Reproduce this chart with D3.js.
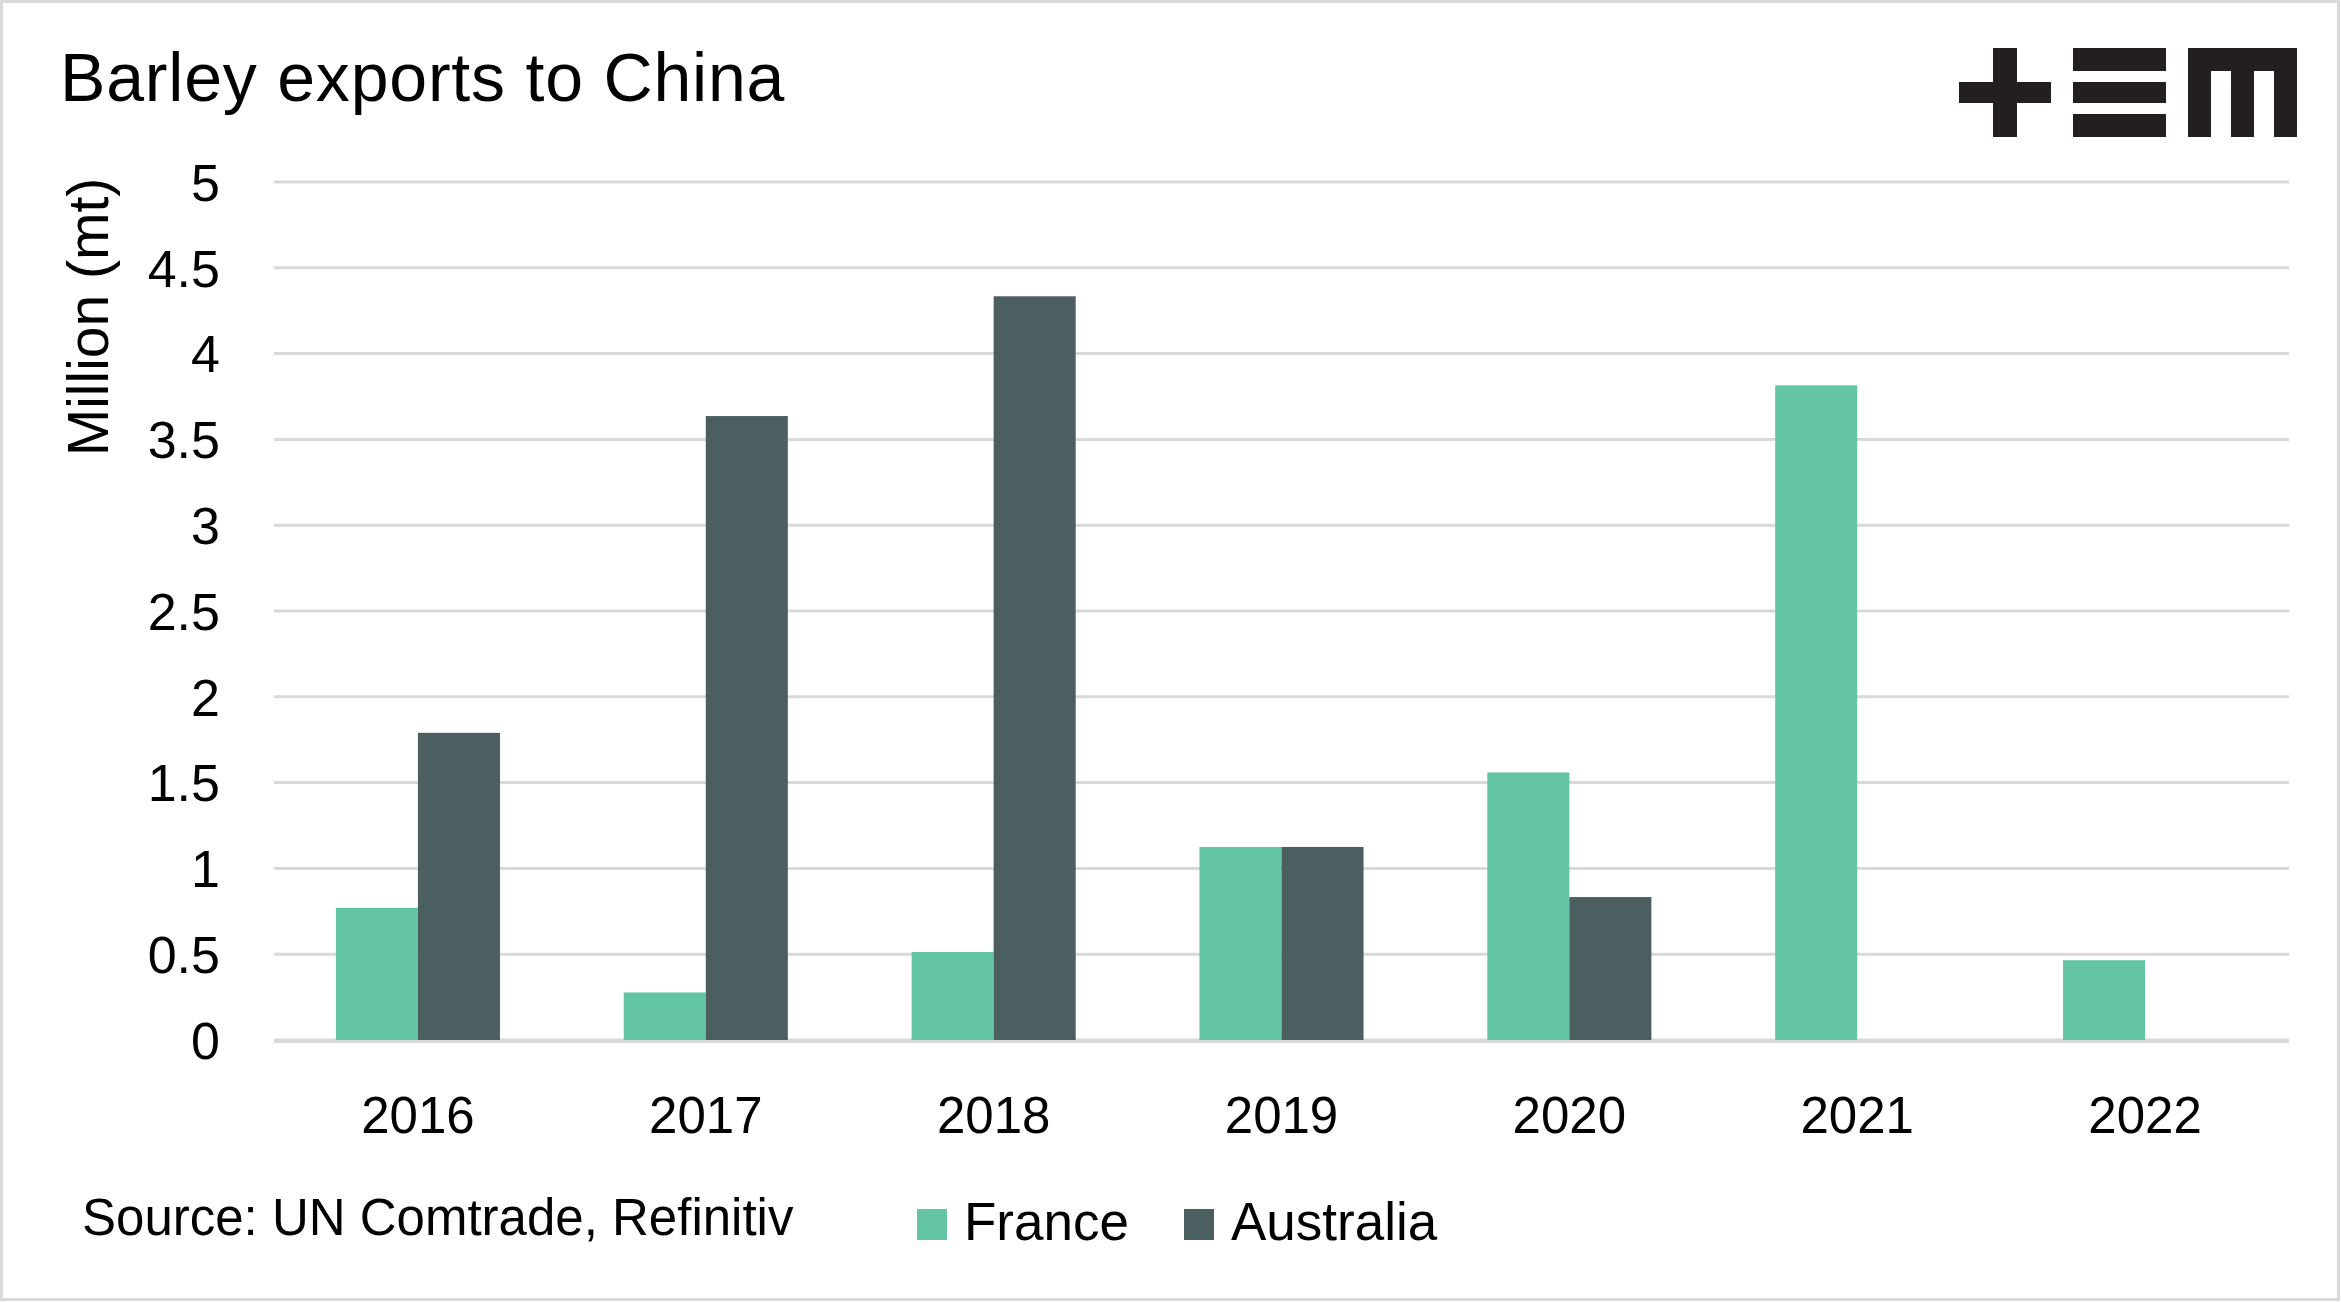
<!DOCTYPE html>
<html>
<head>
<meta charset="utf-8">
<script src="https://cdn.jsdelivr.net/npm/d3@7"></script>
<style>
  html, body { margin: 0; padding: 0; background: #ffffff; }
  svg { display: block; }
  text { font-family: "Liberation Sans", Arial, sans-serif; fill: #000; }
</style>
</head>
<body>
<svg id="chart" width="2341" height="1302"></svg>
<script>
// ---- data ----
const years = ["2016", "2017", "2018", "2019", "2020", "2021", "2022"];
const seriesNames = ["France", "Australia"];
const france = [0.77, 0.277, 0.513, 1.125, 1.559, 3.815, 0.465];
const australia = [1.79, 3.636, 4.334, 1.125, 0.833, 0, 0];
const yTicks = [0, 0.5, 1, 1.5, 2, 2.5, 3, 3.5, 4, 4.5, 5];
const yTickLabels = ["0", "0.5", "1", "1.5", "2", "2.5", "3", "3.5", "4", "4.5", "5"];
const colors = ["#63c5a6", "#4b5e60"];
const titleText = "Barley exports to China";
const yLabel = "Million (mt)";
const sourceText = "Source: UN Comtrade, Refinitiv";

const W = 2341, H = 1302;
const svg = d3.select("#chart");

// frame
svg.append("rect").attr("x", 1.5).attr("y", 1.5).attr("width", W - 4).attr("height", H - 4)
  .attr("fill", "#fff").attr("stroke", "#d9d9d9").attr("stroke-width", 3);

const plot = { left: 274, right: 2289, top: 182, bottom: 1040 };

const x = d3.scaleBand().domain(years).range([plot.left, plot.right])
  .paddingInner(0.43).paddingOuter(0.215);
const x1 = d3.scaleBand().domain(seriesNames).range([0, x.bandwidth()]).padding(0);
const y = d3.scaleLinear().domain([0, 5]).range([plot.bottom, plot.top]);

// gridlines
svg.append("g").selectAll("line").data(yTicks).join("line")
  .attr("x1", plot.left).attr("x2", plot.right)
  .attr("y1", d => y(d)).attr("y2", d => y(d))
  .attr("stroke", "#d9d9d9").attr("stroke-width", 3);

// y tick labels
svg.append("g").selectAll("text").data(yTicks).join("text")
  .attr("x", 220).attr("y", d => y(d)).attr("dy", "0.36em")
  .attr("text-anchor", "end").attr("font-size", 52)
  .text((d, i) => yTickLabels[i]);

// bars
const rows = years.map((yr, i) => ({ year: yr, values: [france[i], australia[i]] }));
const groups = svg.append("g").selectAll("g").data(rows).join("g")
  .attr("transform", d => `translate(${x(d.year)},0)`);
groups.selectAll("rect").data(d => d.values.map((v, j) => ({ name: seriesNames[j], v, j })))
  .join("rect")
  .filter(d => d.v > 0)
  .attr("x", d => x1(d.name)).attr("width", x1.bandwidth())
  .attr("y", d => y(d.v)).attr("height", d => y(0) - y(d.v))
  .attr("fill", d => colors[d.j]);

// baseline under bars
svg.append("line").attr("x1", plot.left).attr("x2", plot.right)
  .attr("y1", y(0) + 1.5).attr("y2", y(0) + 1.5)
  .attr("stroke", "#d9d9d9").attr("stroke-width", 3);

// x axis labels
svg.append("g").selectAll("text").data(years).join("text")
  .attr("x", d => x(d) + x.bandwidth() / 2).attr("y", 1133)
  .attr("text-anchor", "middle").attr("font-size", 51)
  .text(d => d);

// title
svg.append("text").attr("x", 60).attr("y", 101).attr("font-size", 68)
  .attr("letter-spacing", 0.8).text(titleText);

// y label
svg.append("text").attr("transform", "translate(108,317) rotate(-90)")
  .attr("text-anchor", "middle").attr("font-size", 57).text(yLabel);

// source
svg.append("text").attr("x", 82).attr("y", 1235).attr("font-size", 51).text(sourceText);

// legend
const legendX = [917, 1184];
const leg = svg.append("g").selectAll("g").data(seriesNames).join("g")
  .attr("transform", (d, i) => `translate(${legendX[i]},1209)`);
leg.append("rect").attr("width", 30).attr("height", 31).attr("fill", (d, i) => colors[i]);
leg.append("text").attr("x", 47).attr("y", 31).attr("font-size", 53).text(d => d);

// logo (+EM)
const logo = svg.append("g").attr("fill", "#231f20");
const logoRects = [
  [1959, 82, 92, 21], [1993, 48, 24, 89],
  [2073, 48, 93, 23], [2073, 82, 93, 21], [2073, 114, 93, 23],
  [2188, 48, 109, 23], [2188, 48, 23, 89], [2231, 48, 23, 89], [2274, 48, 23, 89]
];
logo.selectAll("rect").data(logoRects).join("rect")
  .attr("x", d => d[0]).attr("y", d => d[1]).attr("width", d => d[2]).attr("height", d => d[3]);
</script>
</body>
</html>
